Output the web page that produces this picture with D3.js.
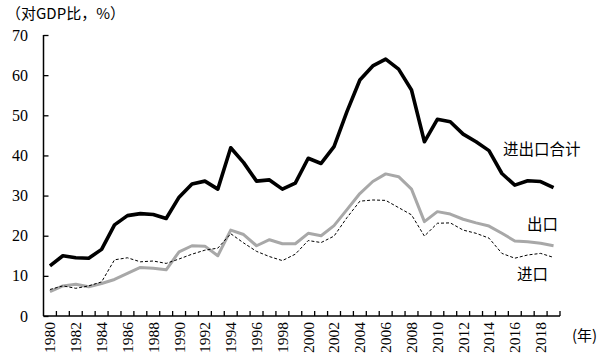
<!DOCTYPE html>
<html><head><meta charset="utf-8">
<script src="https://cdn.jsdelivr.net/npm/d3@7/dist/d3.min.js"></script>
<style>body{margin:0;background:#fff}svg{display:block}</style>
</head><body>
<svg id="c" width="606" height="364"></svg>
<script>
const years = d3.range(1980, 2020);
const total = [12.5,15.0,14.5,14.4,16.6,22.7,25.0,25.5,25.3,24.3,29.6,32.9,33.6,31.6,41.9,38.2,33.6,33.9,31.6,33.1,39.3,38.0,42.2,50.9,58.8,62.3,64.0,61.5,56.3,43.4,49.0,48.4,45.3,43.4,41.2,35.5,32.6,33.7,33.5,32.0];
const exportsV = [6.1,7.5,7.9,7.3,8.1,9.1,10.6,12.1,11.9,11.5,16.0,17.5,17.4,15.0,21.4,20.3,17.5,19.0,18.0,18.0,20.6,20.0,22.5,26.5,30.5,33.5,35.4,34.7,31.6,23.5,26.0,25.4,24.1,23.2,22.4,20.6,18.7,18.5,18.1,17.5];
const importsV = [6.6,7.5,6.9,7.5,8.5,14.0,14.5,13.5,13.7,13.1,14.2,15.4,16.4,16.9,20.5,18.2,16.1,14.8,13.8,15.4,18.8,18.3,19.9,24.5,28.6,28.9,28.8,27.0,25.2,19.9,23.1,23.2,21.4,20.6,19.4,15.6,14.4,15.2,15.6,14.6];
const yTicks = [0,10,20,30,40,50,60,70];
const xLabels = years.filter(y => y % 2 === 0);
const seriesLabels = ["进出口合计", "出口", "进口"];
const unitLabel = "（对GDP比，%）";
const yearUnit = "(年)";

const svg = d3.select("#c");
const x = d3.scaleBand().domain(years).range([43.5, 560]);
const y = d3.scaleLinear().domain([0, 70]).range([316, 35]);
const cx = d => x(d) + x.bandwidth() / 2;
const serif = "'Liberation Serif','DejaVu Serif',serif";
const cjk = "'Noto Sans CJK SC',sans-serif";

// axes
const yAxis = svg.append("g").attr("transform", "translate(43.5,0)")
  .call(d3.axisRight(y).tickValues(yTicks).tickSize(5).tickFormat(""));
yAxis.select(".domain").attr("d", "M0,35V316").attr("stroke", "#000").attr("stroke-width", 1.5);
yAxis.selectAll(".tick line").attr("stroke", "#000").attr("stroke-width", 1.3);

svg.append("g").selectAll("text").data(yTicks).join("text")
  .attr("x", 28).attr("y", d => y(d)).attr("dy", "0.35em").attr("text-anchor", "end")
  .attr("font-family", serif).attr("font-size", 16).text(d => d);

// x axis with boundary ticks
const bounds = years.map(d => x(d) + x.bandwidth());
const xg = svg.append("g");
xg.append("line").attr("x1", 43.5).attr("x2", 560).attr("y1", 316).attr("y2", 316)
  .attr("stroke", "#000").attr("stroke-width", 1.5);
xg.selectAll("line.t").data(bounds).join("line").attr("class", "t")
  .attr("x1", d => d).attr("x2", d => d).attr("y1", 316).attr("y2", 311)
  .attr("stroke", "#000").attr("stroke-width", 1.3);
xg.selectAll("text").data(xLabels).join("text")
  .attr("transform", d => `translate(${cx(d)},322) rotate(-90)`)
  .attr("dy", "0.35em").attr("text-anchor", "end")
  .attr("font-family", serif).attr("font-size", 15.5).text(d => d);

// lines
const line = vals => d3.line().x((d, i) => cx(years[i])).y(d => y(d))(vals);
svg.append("path").attr("d", line(exportsV)).attr("fill", "none")
  .attr("stroke", "#a8a8a8").attr("stroke-width", 3).attr("stroke-linejoin", "round");
svg.append("path").attr("d", line(importsV)).attr("fill", "none")
  .attr("stroke", "#000").attr("stroke-width", 1).attr("stroke-dasharray", "3,2");
svg.append("path").attr("d", line(total)).attr("fill", "none")
  .attr("stroke", "#000").attr("stroke-width", 3.6).attr("stroke-linejoin", "round");

// labels
const lab = [[503, 150], [527, 225], [517, 275]];
svg.append("g").selectAll("text").data(seriesLabels).join("text")
  .attr("x", (d, i) => lab[i][0]).attr("y", (d, i) => lab[i][1]).attr("dy", "0.35em")
  .attr("font-family", cjk).attr("font-size", 15.5).text(d => d);
svg.append("text").attr("x", 6).attr("y", 14).attr("dy", "0.35em")
  .attr("font-family", cjk).attr("font-size", 15).text(unitLabel);
svg.append("text").attr("x", 572).attr("y", 336).attr("dy", "0.35em")
  .attr("font-family", cjk).attr("font-size", 15).text(yearUnit);
</script>
</body></html>
